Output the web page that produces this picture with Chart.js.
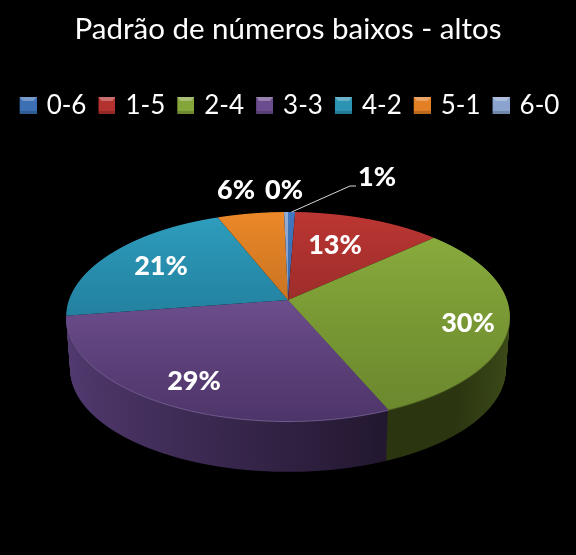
<!DOCTYPE html>
<html>
<head>
<meta charset="utf-8">
<script src="https://cdn.jsdelivr.net/npm/chart.js@4"></script>
<style>
  html, body { margin: 0; padding: 0; background: #000; }
  canvas { display: block; }
</style>
</head>
<body>
<canvas id="pieChart" width="576" height="555"></canvas>
<script>
// dados
const chartTitle = 'Padrão de números baixos - altos';
const categories = ['0-6', '1-5', '2-4', '3-3', '4-2', '5-1', '6-0'];
const shares = [0.6, 12.6, 30.4, 29, 21.4, 5.67, 0.33];

// cores: legenda, face superior (alto/baixo) e parede lateral (esq/dir)
const sliceColors = ['#3c6fb4', '#b3322f', '#84a53a', '#6b4c8e', '#2c93b3', '#e37f25', '#8aa4cf'];
const faceTop = ['#4278c0', '#bd3633', '#8fb23f', '#8a66b0', '#2f9fbf', '#ec8829', '#94aed8'];
const faceBottom = ['#2f5a94', '#7d2422', '#6a872d', '#4e3569', '#1a6b88', '#a8611a', '#6c86b0'];
const wallLeft = [null, null, '#3d4c19', '#523a70', null, null, null];
const wallRight = [null, null, '#2b3510', '#22172f', null, null, null];
const rimColors = [null, null, '#4c5f20', '#6f5a8c', null, null, null];

// onde ficam os rótulos de percentagem
const labelSpots = [[377, 177], [335, 245], [468, 323], [194, 381], [161, 266], [236, 190], [284, 190]];

// projeção do disco em perspetiva
const centerX = 288, centerY = 300;
const rimX = 219, rimY = 101.9, tilt = 0.158;
const wallDepth = 53, wallShrink = 0.018;

function project(angle, f) {
    const u = Math.cos(angle) * f, v = Math.sin(angle) * f;
    const w = 1 - tilt * v;
    return [centerX + rimX * u / w, centerY + rimY * v / w];
}

// desenha o arco da biblioteca linha a linha, cada linha com a sua escala
function drawArcRows(ctx, arc, fill, dy, scale, fromRow, toRow) {
    const r = arc.outerRadius;
    const saved = arc.options;
    arc.options = Object.assign({}, saved, { backgroundColor: fill, borderWidth: 0 });
    for (let y = fromRow; y < toRow; y++) {
        const d = (y + 0.5 - centerY - dy) / scale;
        const v = d / (rimY + tilt * d);
        if (Math.abs(v) > 1) continue;
        const w = 1 - tilt * v;
        const sx = rimX * scale / (r * w);
        const sy = rimY * scale / (r * w * w);
        ctx.save();
        ctx.beginPath();
        ctx.rect(0, y, 576, 1);
        ctx.clip();
        ctx.transform(sx, 0, 0, sy, centerX - arc.x * sx, y + 0.5 - (arc.y + v * r) * sy);
        arc.draw(ctx);
        ctx.restore();
    }
    arc.options = saved;
}

const pie3d = {
    id: 'pie3d',
    beforeDatasetDraw(chart) {
        const ctx = chart.ctx;
        const arcs = chart.getDatasetMeta(0).data;
        const r = arcs[0].outerRadius, xc = arcs[0].x, yc = arcs[0].y;

        // parede lateral: camadas de baixo para cima, só a metade da frente
        for (let t = wallDepth; t >= 1; t--) {
            const scale = 1 - wallShrink * t / wallDepth;
            const from = Math.floor(centerY + t);
            const to = Math.ceil(centerY + t + 122 * scale);
            arcs.forEach((arc, i) => {
                if (!wallLeft[i]) return;
                let fill;
                if (t === 1) {
                    fill = rimColors[i];
                } else if (i === 2) {
                    // verde: escuro junto ao roxo, mais claro na borda direita
                    fill = ctx.createLinearGradient(xc + 0.68 * r, 0, xc + r, 0);
                    fill.addColorStop(0, wallRight[i]);
                    fill.addColorStop(1, wallLeft[i]);
                } else {
                    fill = ctx.createLinearGradient(xc - r, 0, xc + r, 0);
                    fill.addColorStop(0, wallLeft[i]);
                    fill.addColorStop(0.7, wallRight[i]);
                }
                drawArcRows(ctx, arc, fill, t, scale, from, to);
            });
        }

        // face superior
        arcs.forEach((arc, i) => {
            const fill = ctx.createLinearGradient(0, yc - r, 0, yc + r);
            fill.addColorStop(0, faceTop[i]);
            fill.addColorStop(1, faceBottom[i]);
            drawArcRows(ctx, arc, fill, 0, 1, 210, 424);
        });
        return false;
    },
    afterDatasetsDraw(chart) {
        const ctx = chart.ctx;
        const arcs = chart.getDatasetMeta(0).data;

        // linha de chamada do 1%
        const first = arcs[0];
        const tip = project((first.startAngle + first.endAngle) / 2, 1);
        ctx.save();
        ctx.strokeStyle = '#d9d9d9';
        ctx.lineWidth = 1;
        ctx.beginPath();
        ctx.moveTo(tip[0], tip[1]);
        ctx.lineTo(350, 186);
        ctx.lineTo(356, 186);
        ctx.stroke();

        ctx.fillStyle = '#fff';
        ctx.font = '900 27px Lato';
        ctx.textAlign = 'center';
        ctx.textBaseline = 'middle';
        shares.forEach((s, i) => {
            ctx.fillText(Math.round(s) + '%', labelSpots[i][0], labelSpots[i][1]);
        });
        ctx.restore();
    }
};

// quadradinho da legenda com biselado (folga à esquerda para encostar ao texto)
function legendSwatch(color) {
    const c = document.createElement('canvas');
    c.width = 23; c.height = 17;
    const g = c.getContext('2d');
    g.translate(6, 0);
    g.fillStyle = color;
    g.fillRect(0, 0, 17, 17);
    g.fillStyle = 'rgba(255,255,255,0.3)';
    g.beginPath();
    g.moveTo(0, 0); g.lineTo(17, 0); g.lineTo(14, 4); g.lineTo(3, 4);
    g.fill();
    g.fillStyle = 'rgba(0,0,0,0.18)';
    g.fillRect(0, 14, 17, 3);
    return c;
}

new Chart(document.getElementById('pieChart'), {
    type: 'pie',
    data: {
        labels: categories,
        datasets: [{ data: shares, backgroundColor: sliceColors, borderWidth: 0 }]
    },
    options: {
        responsive: false,
        devicePixelRatio: 1,
        animation: false,
        plugins: {
            tooltip: { enabled: false },
            title: {
                display: true,
                text: chartTitle,
                color: '#fff',
                font: { family: 'Lato', size: 29.5, weight: 'normal' },
                padding: { top: 12, bottom: 36 }
            },
            legend: {
                position: 'top',
                labels: {
                    color: '#fff',
                    font: { family: 'Lato', size: 26 },
                    usePointStyle: true,
                    pointStyleWidth: 17,
                    padding: 9,
                    generateLabels(chart) {
                        return categories.map((name, i) => ({
                            text: name,
                            fontColor: '#fff',
                            pointStyle: legendSwatch(sliceColors[i]),
                            lineWidth: 0,
                            index: i
                        }));
                    }
                }
            }
        }
    },
    plugins: [pie3d]
});
</script>
</body>
</html>
